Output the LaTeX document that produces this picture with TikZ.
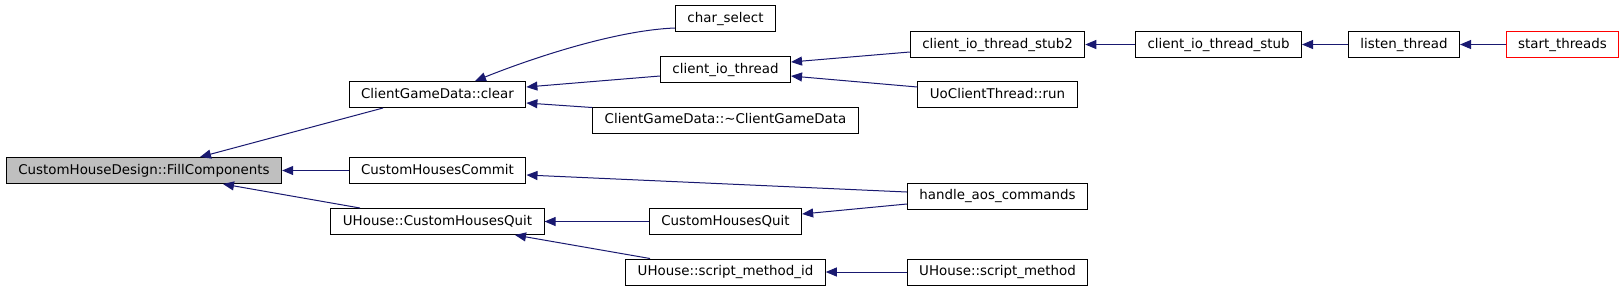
\documentclass[tikz,border=0pt]{standalone}
\usepackage{fontspec}
\setmainfont{DejaVu Sans}
\usetikzlibrary{arrows.meta,calc}
\definecolor{edgeblue}{HTML}{191970}

\begin{document}
\begin{tikzpicture}[
		x=0.5pt, y=0.5pt,
		fn/.style={draw, fill=white, line width=0.5pt, inner xsep=6pt, inner ysep=0pt,
			minimum height=13pt, text height=5.2pt, text depth=1.4pt,
			font=\fontsize{6.7}{8}\selectfont},
		call/.style={draw=edgeblue, line width=0.5pt, {Triangle[length=5.5pt,width=4.5pt]}-}
		]
		\useasboundingbox (0,0) rectangle (1624,-291);
		\node[fn, fill=gray!50] (fill)  at (144,-170.5)   {CustomHouseDesign::FillComponents};
		\node[fn] (clear)  at (437.5,-94.5)  {ClientGameData::clear};
		\node[fn] (commit) at (437.5,-170.5) {CustomHousesCommit};
		\node[fn] (uquit)  at (437.5,-221.5) {UHouse::CustomHousesQuit};
		\node[fn] (char)   at (725.5,-18.5)  {char\_select};
		\node[fn] (cio)    at (725.5,-69.5)  {client\_io\_thread};
		\node[fn] (dtor)   at (725.5,-120)   {ClientGameData::\textasciitilde ClientGameData};
		\node[fn] (cquit)  at (725.5,-221.5) {CustomHousesQuit};
		\node[fn] (smid)   at (725.5,-272)   {UHouse::script\_method\_id};
		\node[fn] (stub2)  at (997.5,-44.5)  {client\_io\_thread\_stub2};
		\node[fn] (uorun)  at (997.5,-94.5)  {UoClientThread::run};
		\node[fn] (aos)    at (997.5,-196)   {handle\_aos\_commands};
		\node[fn] (smeth)  at (997.5,-272)   {UHouse::script\_method};
		\node[fn] (stub)   at (1218.5,-44.5) {client\_io\_thread\_stub};
		\node[fn] (listen) at (1404,-44.5)   {listen\_thread};
		\node[fn, draw=red] (start) at (1562.5,-44.5) {start\_threads};
		
		\draw[call] ($(fill.north)+(56,0)$) -- ($(clear.south)+(-54.5,0)$);
		\draw[call] (fill.east) -- (commit.west);
		\draw[call] ($(fill.south)+(79,0)$) -- ($(uquit.north)+(-77.5,0)$);
		\draw[call] ($(clear.north)+(37.5,0)$) .. controls (540,-55) and (620,-30) .. ($(char.west)+(0,-9.5)$);
		\draw[call] ($(clear.east)+(0,7.5)$) -- ($(cio.west)+(0,-6.5)$);
		\draw[call] ($(clear.east)+(0,-8.5)$) -- ($(dtor.north west)+(0,-1)$);
		\draw[call] ($(cio.east)+(0,7.5)$) -- ($(stub2.west)+(0,-7.5)$);
		\draw[call] ($(cio.east)+(0,-6.5)$) -- ($(uorun.west)+(0,7.5)$);
		\draw[call] (stub2) -- (stub);
		\draw[call] (stub) -- (listen);
		\draw[call] (listen) -- (start);
		\draw[call] ($(commit.east)+(0,-4.5)$) -- ($(aos.west)+(0,4)$);
		\draw[call] ($(cquit.east)+(0,7.5)$) -- ($(aos.west)+(0,-8)$);
		\draw[call] (uquit) -- (cquit);
		\draw[call] ($(uquit.south)+(77.5,0)$) -- ($(smid.north)+(-75.5,0)$);
		\draw[call] (smid) -- (smeth);
	\end{tikzpicture}
\end{document}
